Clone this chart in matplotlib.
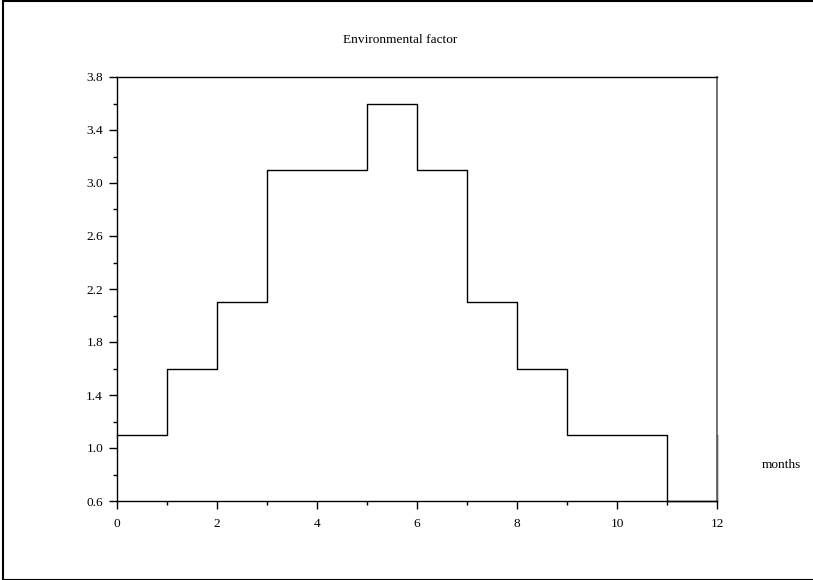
import matplotlib.pyplot as plt
from matplotlib.patches import Rectangle
from matplotlib.ticker import MultipleLocator

# monthly environmental factor, step held from each month to the next
months = [0, 1, 2, 3, 4, 5, 6, 7, 8, 9, 10, 11, 12]
factor = [1.1, 1.6, 2.1, 3.1, 3.1, 3.6, 3.1, 2.1, 1.6, 1.1, 1.1, 0.6, 1.1]

plt.rcParams["font.family"] = ["Liberation Serif", "DejaVu Serif"]

fig = plt.figure(figsize=(8.13, 5.80), dpi=100)
ax = fig.add_axes([117 / 813, 1 - 501 / 580, 600 / 813, 424 / 580])

ax.step(months, factor, where="post", color="black", linewidth=1.0, clip_on=False)

ax.set_xlim(0, 12)
ax.set_ylim(0.6, 3.8)
ax.xaxis.set_major_locator(MultipleLocator(2))
ax.xaxis.set_minor_locator(MultipleLocator(1))
ax.yaxis.set_major_locator(MultipleLocator(0.4, offset=0.2))
ax.yaxis.set_minor_locator(MultipleLocator(0.2))
ax.yaxis.set_major_formatter(lambda v, pos: f"{v:.1f}")

ax.tick_params(which="major", direction="out", length=6, width=1, labelsize=9.6)
ax.tick_params(axis="x", which="major", pad=6)
ax.tick_params(axis="y", which="major", pad=4)
ax.tick_params(which="minor", direction="out", length=3, width=1)
for side in ["top", "left", "bottom"]:
    ax.spines[side].set_linewidth(1.0)
ax.spines["right"].set_color("#666666")
ax.spines["right"].set_linewidth(1.3)

fig.text(400 / 813, 1 - 40 / 580, "Environmental factor", ha="center", va="center", fontsize=9.6)
fig.text(781 / 813, 1 - 465 / 580, "months", ha="center", va="center", fontsize=9.6)

# frame around the whole graphic window
fig.patches.append(Rectangle((2.5 / 813, 0.5 / 580), 1.0, 1 - 1.5 / 580,
                             transform=fig.transFigure, fill=False,
                             edgecolor="black", linewidth=1.5))

fig.savefig("out.png", dpi=100)
